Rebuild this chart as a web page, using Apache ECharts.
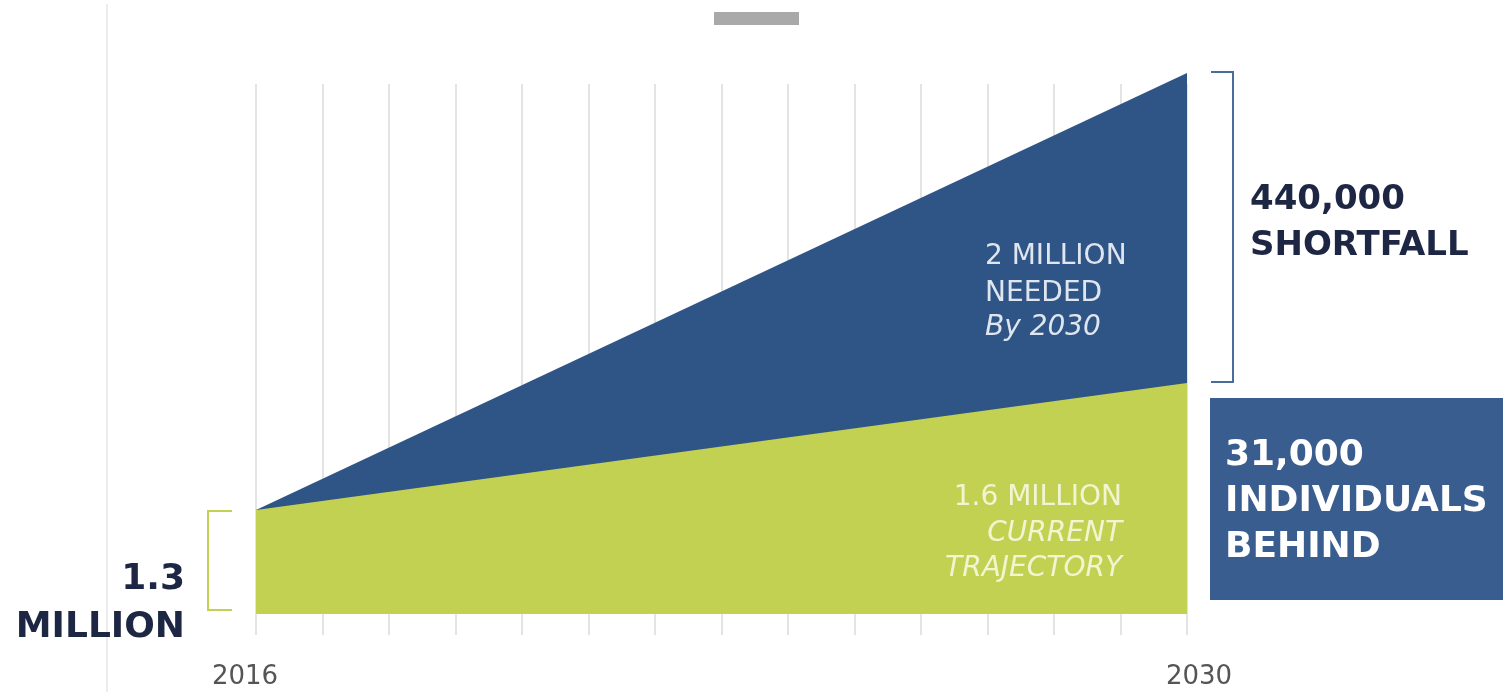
<!DOCTYPE html>
<html>
<head>
<meta charset="utf-8">
<script src="https://cdn.jsdelivr.net/npm/echarts@6/dist/echarts.min.js"></script>
<style>
html,body{margin:0;padding:0;background:#fff;}
#chart{width:1503px;height:692px;}
</style>
</head>
<body>
<div id="chart"></div>
<script>
// Data (millions)
var years = [2016, 2030];
var needed = [1.3, 2.0];        // 2 million needed by 2030
var trajectory = [1.3, 1.6];    // 1.6 million current trajectory
var tickLabels = ['2016', '2030'];

var FONT = '"DejaVu Sans", "Open Sans", sans-serif';
var NAVY = '#1d2642';

var chart = echarts.init(document.getElementById('chart'));

function pairs(xs, ys) { return xs.map(function (x, i) { return [x, ys[i]]; }); }

chart.setOption({
  animation: false,
  backgroundColor: '#ffffff',
  grid: { left: 256, right: 316, top: 84, bottom: 78 },
  xAxis: {
    type: 'value', min: 2016, max: 2030, interval: 1,
    axisLine: { show: false },
    axisTick: { show: true, length: 21, lineStyle: { color: '#e4e4e4', width: 2 } },
    splitLine: { show: true, lineStyle: { color: '#e4e4e4', width: 2 } },
    axisLabel: {
      margin: 50, fontSize: 26, color: '#555', fontFamily: FONT,
      formatter: function (v) {
        var s = String(v);
        if (s === tickLabels[0]) return '{a|' + s + '}';
        if (s === tickLabels[1]) return '{b|' + s + '}';
        return '';
      },
      rich: {
        a: { fontSize: 26, color: '#555', fontFamily: FONT, padding: [0, 22, 0, 0] },
        b: { fontSize: 26, color: '#555', fontFamily: FONT, padding: [0, 0, 0, 24] }
      }
    }
  },
  yAxis: [
    { type: 'value', show: false, min: 1.0543, max: 2.3063, splitLine: { show: false } },
    { type: 'value', show: false, min: 1.1334, max: 1.9824, splitLine: { show: false } }
  ],
  series: [
    {
      name: 'Needed', type: 'line', yAxisIndex: 1, clip: false, z: 2,
      data: pairs(years, needed), symbol: 'none',
      lineStyle: { width: 0 },
      areaStyle: { color: '#2f5486', opacity: 1, origin: 'start' }
    },
    {
      name: 'Current trajectory', type: 'line', yAxisIndex: 0, clip: false, z: 3,
      data: pairs(years, trajectory), symbol: 'none',
      lineStyle: { width: 0 },
      areaStyle: { color: '#c3d152', opacity: 1, origin: 'start' }
    }
  ],
  graphic: [
    { type: 'line', shape: { x1: 107, y1: 4, x2: 107, y2: 692 }, style: { stroke: '#ececec', lineWidth: 2 } },
    { type: 'rect', shape: { x: 714, y: 12, width: 85, height: 13 }, style: { fill: '#a9a9a9' } },
    // green bracket
    { type: 'polyline', shape: { points: [[232, 511], [208, 511], [208, 610], [232, 610]] }, style: { stroke: '#c3d152', lineWidth: 2, fill: null } },
    // blue bracket
    { type: 'polyline', shape: { points: [[1211, 72], [1233, 72], [1233, 382], [1211, 382]] }, style: { stroke: '#4a6c9c', lineWidth: 2, fill: null } },
    // blue box
    { type: 'rect', shape: { x: 1210, y: 398, width: 293, height: 202 }, style: { fill: '#3a5d8f' } },
    { type: 'text', style: { text: '1.3', x: 185, y: 580, align: 'right', verticalAlign: 'middle', fontSize: 36, fontWeight: 'bold', fill: NAVY, fontFamily: FONT } },
    { type: 'text', style: { text: 'MILLION', x: 185, y: 628, align: 'right', verticalAlign: 'middle', fontSize: 36, fontWeight: 'bold', fill: NAVY, fontFamily: FONT } },
    { type: 'text', style: { text: '440,000', x: 1250, y: 200, align: 'left', verticalAlign: 'middle', fontSize: 34, fontWeight: 'bold', fill: NAVY, fontFamily: FONT } },
    { type: 'text', style: { text: 'SHORTFALL', x: 1250, y: 246, align: 'left', verticalAlign: 'middle', fontSize: 34, fontWeight: 'bold', fill: NAVY, fontFamily: FONT } },
    { type: 'text', style: { text: '31,000', x: 1225, y: 456, align: 'left', verticalAlign: 'middle', fontSize: 36, fontWeight: 'bold', fill: '#ffffff', fontFamily: FONT } },
    { type: 'text', style: { text: 'INDIVIDUALS', x: 1225, y: 502, align: 'left', verticalAlign: 'middle', fontSize: 36, fontWeight: 'bold', fill: '#ffffff', fontFamily: FONT } },
    { type: 'text', style: { text: 'BEHIND', x: 1225, y: 548, align: 'left', verticalAlign: 'middle', fontSize: 36, fontWeight: 'bold', fill: '#ffffff', fontFamily: FONT } },
    { type: 'text', z: 10, style: { text: '2 MILLION', x: 985, y: 257, align: 'left', verticalAlign: 'middle', fontSize: 28, fill: '#dfe6f0', fontFamily: FONT } },
    { type: 'text', z: 10, style: { text: 'NEEDED', x: 985, y: 294, align: 'left', verticalAlign: 'middle', fontSize: 28, fill: '#dfe6f0', fontFamily: FONT } },
    { type: 'text', z: 10, style: { text: 'By 2030', x: 985, y: 328, align: 'left', verticalAlign: 'middle', fontSize: 28, fontStyle: 'italic', fill: '#dfe6f0', fontFamily: FONT } },
    { type: 'text', z: 10, style: { text: '1.6 MILLION', x: 1122, y: 498, align: 'right', verticalAlign: 'middle', fontSize: 28, fill: '#f2f5d2', fontFamily: FONT } },
    { type: 'text', z: 10, style: { text: 'CURRENT', x: 1122, y: 534, align: 'right', verticalAlign: 'middle', fontSize: 28, fontStyle: 'italic', fill: '#f2f5d2', fontFamily: FONT } },
    { type: 'text', z: 10, style: { text: 'TRAJECTORY', x: 1122, y: 569, align: 'right', verticalAlign: 'middle', fontSize: 28, fontStyle: 'italic', fill: '#f2f5d2', fontFamily: FONT } }
  ]
});
</script>
</body>
</html>
